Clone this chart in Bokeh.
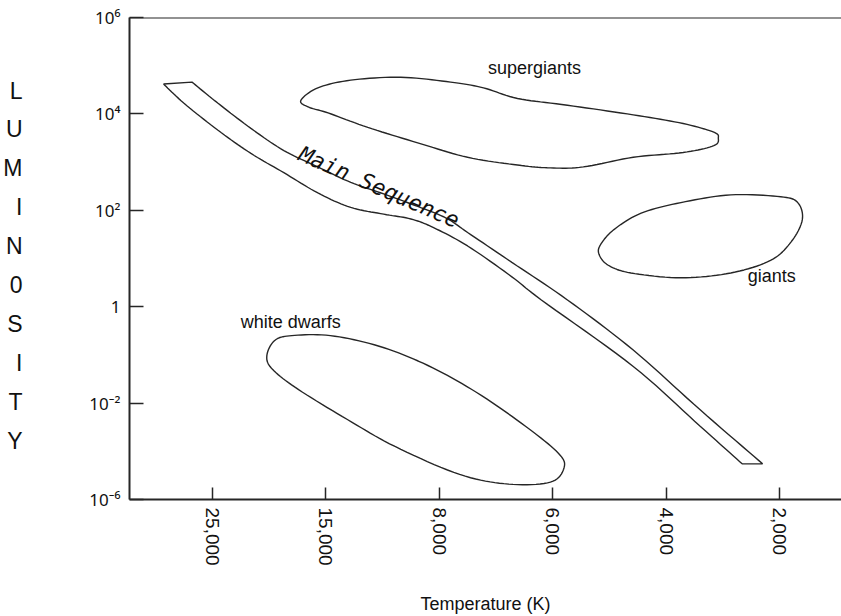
import math
from bokeh.plotting import figure
from bokeh.models import Range1d, FixedTicker, Label, Span, LinearAxis
from bokeh.embed import file_html
from bokeh.resources import INLINE

# ---- axis categories (schematic, evenly spaced ticks) ----
temp_labels = ["25,000", "15,000", "8,000", "6,000", "4,000", "2,000"]
lum_labels = ["10\u207b\u2076", "10\u207b\u00b2", "1", "10\u00b2", "10\u2074", "10\u2076"]
x_title = "Temperature (K)"
y_title_letters = list("LUMIN0SITY")
y_title_pos = [4.24, 3.84, 3.44, 3.03, 2.63, 2.23, 1.82, 1.42, 1.01, 0.61]

# ---- region outlines, in (temperature-tick index, luminosity-tick index) units ----
ms_upper_x = [-0.18, 0.05, 0.34, 0.63, 0.93, 1.22, 1.51, 1.81, 2.06, 2.25, 2.64, 3.13, 3.71, 4.30, 4.85]
ms_upper_y = [4.33, 4.11, 3.85, 3.62, 3.45, 3.29, 3.17, 3.04, 2.92, 2.77, 2.46, 2.07, 1.55, 0.93, 0.37]
ms_lower_x = [4.67, 4.30, 3.71, 2.90, 2.64, 2.25, 1.95, 1.75, 1.51, 1.22, 0.93, 0.63, 0.34, 0.05, -0.25, -0.43]
ms_lower_y = [0.37, 0.76, 1.38, 2.07, 2.31, 2.63, 2.82, 2.91, 2.96, 3.03, 3.18, 3.39, 3.59, 3.83, 4.11, 4.31]

sg_x = [0.78, 0.93, 1.22, 1.66, 2.10, 2.39, 2.69, 3.13, 3.71, 4.15, 4.42, 4.46, 4.42, 4.15, 3.71, 3.27, 2.98, 2.69, 2.25, 1.81, 1.37, 1.02, 0.85]
sg_y = [4.14, 4.27, 4.35, 4.38, 4.33, 4.27, 4.16, 4.09, 3.99, 3.90, 3.81, 3.75, 3.67, 3.60, 3.55, 3.45, 3.44, 3.47, 3.55, 3.70, 3.86, 4.01, 4.07]

gi_x = [3.41, 3.49, 3.69, 4.13, 4.57, 4.92, 5.10, 5.20, 5.16, 5.01, 4.57, 4.13, 3.78, 3.54, 3.42]
gi_y = [2.54, 2.43, 2.35, 2.30, 2.35, 2.48, 2.67, 2.90, 3.08, 3.14, 3.16, 3.08, 2.97, 2.80, 2.64]

wd_x = [0.48, 0.55, 0.70, 1.04, 1.47, 1.90, 2.33, 2.76, 3.05, 3.10, 2.98, 2.61, 2.18, 1.61, 1.19, 0.76, 0.53]
wd_y = [1.49, 1.65, 1.70, 1.70, 1.59, 1.39, 1.11, 0.76, 0.48, 0.33, 0.18, 0.16, 0.26, 0.55, 0.83, 1.14, 1.35]

# ---- region names ----
region_names = ["supergiants", "giants", "white dwarfs"]
region_name_x = [2.84, 4.93, 0.69]
region_name_y = [4.48, 2.32, 1.84]
ms_name = "Main Sequence"
ms_name_xy = (1.47, 3.24)


def smooth(xs, ys, closed, n=10):
    pts = list(zip(xs, ys))
    N = len(pts)
    ox, oy = [], []
    segs = N if closed else N - 1
    for i in range(segs):
        if closed:
            p0, p1, p2, p3 = pts[(i - 1) % N], pts[i], pts[(i + 1) % N], pts[(i + 2) % N]
        else:
            p0, p1, p2, p3 = pts[max(i - 1, 0)], pts[i], pts[i + 1], pts[min(i + 2, N - 1)]
        for k in range(n):
            t = k / n
            t2, t3 = t * t, t * t * t
            res = []
            for d in (0, 1):
                res.append(0.5 * (2 * p1[d] + (-p0[d] + p2[d]) * t
                                  + (2 * p0[d] - 5 * p1[d] + 4 * p2[d] - p3[d]) * t2
                                  + (-p0[d] + 3 * p1[d] - 3 * p2[d] + p3[d]) * t3))
            ox.append(res[0]); oy.append(res[1])
    if not closed:
        ox.append(xs[-1]); oy.append(ys[-1])
    else:
        ox.append(ox[0]); oy.append(oy[0])
    return ox, oy


FONT = "Liberation Sans"
INK = "#262626"
TXT = "#111111"

p = figure(width=841, height=616, output_backend="svg", toolbar_location=None,
           x_range=Range1d(-0.7306, 5.5458), y_range=Range1d(0, 5),
           min_border_left=128, min_border_right=0, min_border_top=17, min_border_bottom=116)
p.outline_line_color = None
p.xgrid.visible = False
p.ygrid.visible = False
p.background_fill_color = "white"
p.border_fill_color = "white"

# axes
p.xaxis.ticker = FixedTicker(ticks=list(range(len(temp_labels))))
p.xaxis.major_label_overrides = {i: s for i, s in enumerate(temp_labels)}
p.yaxis.ticker = FixedTicker(ticks=list(range(len(lum_labels))))
p.yaxis.major_label_overrides = {i: s for i, s in enumerate(lum_labels)}
for ax in (p.xaxis, p.yaxis):
    ax.axis_line_color = INK
    ax.axis_line_width = 2
    ax.major_tick_line_color = INK
    ax.major_tick_line_width = 1.5
    ax.major_tick_out = 0
    ax.minor_tick_line_color = None
    ax.major_label_text_font = FONT
    ax.major_label_text_color = TXT
p.xaxis.major_tick_in = 12
p.yaxis.major_tick_in = 14
p.xaxis.major_label_orientation = -math.pi / 2
p.xaxis.major_label_text_font_size = "19px"
p.xaxis.major_label_standoff = 8
p.xaxis.axis_label = x_title
p.xaxis.axis_label_text_font = FONT
p.xaxis.axis_label_text_font_size = "18px"
p.xaxis.axis_label_text_font_style = "normal"
p.xaxis.axis_label_text_color = TXT
p.xaxis.axis_label_standoff = 25
p.yaxis.major_label_text_font = "Noto Sans"
p.yaxis.major_label_text_font_size = "17px"
p.yaxis.major_label_standoff = 9

# stacked vertical title "LUMIN0SITY" as an outer left axis of letters
title_axis = LinearAxis(ticker=FixedTicker(ticks=y_title_pos),
                        major_label_overrides={v: s for v, s in zip(y_title_pos, y_title_letters)})
title_axis.axis_line_color = None
title_axis.major_tick_line_color = None
title_axis.minor_tick_line_color = None
title_axis.major_label_text_font = FONT
title_axis.major_label_text_font_size = "23px"
title_axis.major_label_text_color = TXT
title_axis.major_label_standoff = 58
p.add_layout(title_axis, "left")

p.add_layout(Span(location=5, dimension="width", line_color=INK, line_width=2))

# Main sequence band
ux, uy = smooth(ms_upper_x, ms_upper_y, False)
lx, ly = smooth(ms_lower_x, ms_lower_y, False)
p.patch(ux + lx + [ux[0]], uy + ly + [uy[0]], fill_color=None, line_color=INK, line_width=1.4)

for xs, ys in ((sg_x, sg_y), (gi_x, gi_y), (wd_x, wd_y)):
    sx, sy = smooth(xs, ys, True)
    p.patch(sx, sy, fill_color=None, line_color=INK, line_width=1.4)

for name, x, y in zip(region_names, region_name_x, region_name_y):
    p.add_layout(Label(x=x, y=y, text=name, text_font=FONT, text_font_size="18px",
                       text_align="center", text_baseline="middle", text_color=TXT))

p.add_layout(Label(x=ms_name_xy[0], y=ms_name_xy[1], text=ms_name, angle=-0.41,
                   text_font="DejaVu Sans Mono", text_font_style="italic", text_font_size="22px",
                   text_align="center", text_baseline="alphabetic", text_color=TXT))

open("out.html", "w").write(file_html(p, INLINE))
